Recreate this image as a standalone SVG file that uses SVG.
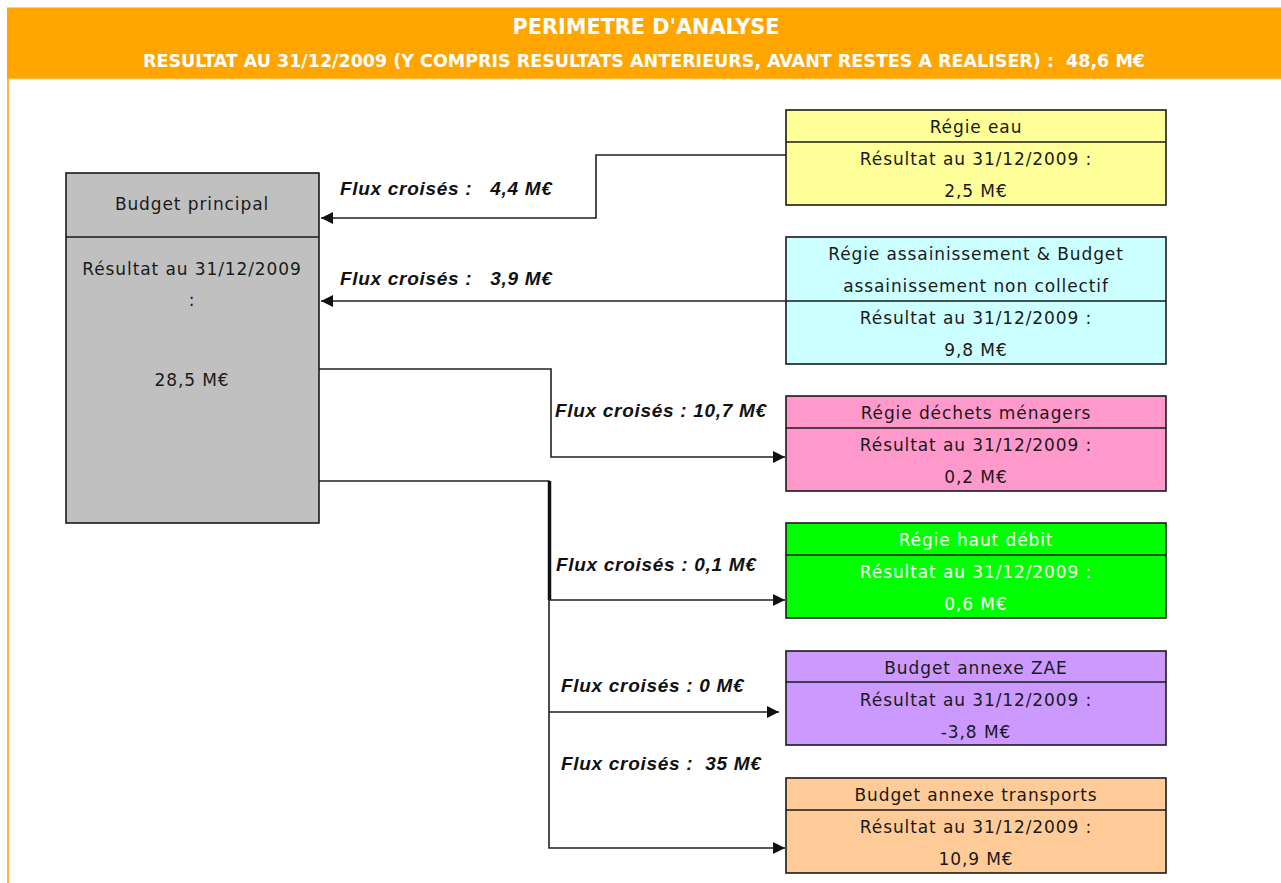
<svg xmlns="http://www.w3.org/2000/svg" width="1281" height="883" viewBox="0 0 1281 883">
<style>
.box{stroke:#1a1a1a;stroke-width:1.6}
.div{stroke:#1a1a1a;stroke-width:1.4}
.t{font-family:"DejaVu Sans",Verdana,sans-serif;font-size:17px;letter-spacing:0.9px;fill:#1a1a1a;text-anchor:middle}
.w{fill:#ffffff}
.lbl{font-family:"Liberation Sans",Arial,sans-serif;font-size:19px;letter-spacing:0.7px;font-style:italic;font-weight:bold;fill:#111;white-space:pre}
.hd{font-family:"DejaVu Sans Condensed","DejaVu Sans",sans-serif;font-weight:bold;fill:#ffffff;text-anchor:middle;white-space:pre}
.c{fill:none;stroke:#222;stroke-width:1.6}
</style>
<defs>
<marker id="ah" viewBox="0 0 10 10" refX="10" refY="5" markerWidth="12" markerHeight="12" markerUnits="userSpaceOnUse" orient="auto">
<path d="M0,0 L10,5 L0,10 z" fill="#111"/>
</marker>
</defs>
<rect width="1281" height="883" fill="#ffffff"/>
<g id="header">
<rect x="7" y="7" width="1274" height="72" fill="#FFA500"/>
<line x1="7" y1="7.5" x2="1281" y2="7.5" stroke="#FFD480" stroke-width="1"/>
<line x1="7" y1="79" x2="1281" y2="79" stroke="#FFD480" stroke-width="1"/>
<line x1="8" y1="79" x2="8" y2="883" stroke="#FFB83A" stroke-width="2"/>
<text class="hd" x="646" y="34" font-size="21" textLength="267" lengthAdjust="spacingAndGlyphs">PERIMETRE D'ANALYSE</text>
<text class="hd" x="644" y="67" font-size="17" textLength="1002" lengthAdjust="spacingAndGlyphs">RESULTAT AU 31/12/2009 (Y COMPRIS RESULTATS ANTERIEURS, AVANT RESTES A REALISER) :  48,6 M€</text>
</g>
<g id="connectors">
<polyline class="c" points="786,155 596,155 596,218 321,218" marker-end="url(#ah)"/>
<polyline class="c" points="786,301 321,301" marker-end="url(#ah)"/>
<polyline class="c" points="319,369 551,369 551,457 785,457" marker-end="url(#ah)"/>
<polyline class="c" points="317,481 549,481 549,848 785,848" marker-end="url(#ah)"/>
<line x1="549.5" y1="481" x2="549.5" y2="600" stroke="#111" stroke-width="3.5"/>
<polyline class="c" points="549,600 785,600" marker-end="url(#ah)"/>
<polyline class="c" points="549,712 779,712" marker-end="url(#ah)"/>
<text class="lbl" x="340" y="195">Flux croisés :   4,4 M€</text>
<text class="lbl" x="340" y="285">Flux croisés :   3,9 M€</text>
<text class="lbl" x="555" y="417">Flux croisés : 10,7 M€</text>
<text class="lbl" x="556" y="571">Flux croisés : 0,1 M€</text>
<text class="lbl" x="561" y="692">Flux croisés : 0 M€</text>
<text class="lbl" x="561" y="770">Flux croisés :  35 M€</text>
</g>
<g id="budget-principal">
<rect class="box" x="66" y="173" width="253" height="350" fill="#C0C0C0"/>
<line class="div" x1="66" y1="237" x2="319" y2="237"/>
<text class="t" x="192" y="210">Budget principal</text>
<text class="t" x="192" y="275">Résultat au 31/12/2009</text>
<text class="t" x="192" y="306">:</text>
<text class="t" x="192" y="386">28,5 M€</text>
</g>
<g id="regie-eau">
<rect class="box" x="786" y="110" width="380" height="95" fill="#FFFF99"/>
<line class="div" x1="786" y1="142" x2="1166" y2="142"/>
<text class="t" x="976" y="133">Régie eau</text>
<text class="t" x="976" y="165">Résultat au 31/12/2009 :</text>
<text class="t" x="976" y="197">2,5 M€</text>
</g>
<g id="regie-assainissement">
<rect class="box" x="786" y="237" width="380" height="127" fill="#CCFFFF"/>
<line class="div" x1="786" y1="301" x2="1166" y2="301"/>
<text class="t" x="976" y="260">Régie assainissement &amp; Budget</text>
<text class="t" x="976" y="292">assainissement non collectif</text>
<text class="t" x="976" y="324">Résultat au 31/12/2009 :</text>
<text class="t" x="976" y="356">9,8 M€</text>
</g>
<g id="regie-dechets">
<rect class="box" x="786" y="396" width="380" height="95" fill="#FF99CC"/>
<line class="div" x1="786" y1="428" x2="1166" y2="428"/>
<text class="t" x="976" y="419">Régie déchets ménagers</text>
<text class="t" x="976" y="451">Résultat au 31/12/2009 :</text>
<text class="t" x="976" y="483">0,2 M€</text>
</g>
<g id="regie-haut-debit">
<rect class="box" x="786" y="523" width="380" height="95" fill="#00FF00"/>
<line class="div" x1="786" y1="555" x2="1166" y2="555"/>
<text class="t w" x="976" y="546">Régie haut débit</text>
<text class="t w" x="976" y="578">Résultat au 31/12/2009 :</text>
<text class="t w" x="976" y="610">0,6 M€</text>
</g>
<g id="budget-zae">
<rect class="box" x="786" y="651" width="380" height="94" fill="#CC99FF"/>
<line class="div" x1="786" y1="682" x2="1166" y2="682"/>
<text class="t" x="976" y="674">Budget annexe ZAE</text>
<text class="t" x="976" y="706">Résultat au 31/12/2009 :</text>
<text class="t" x="976" y="738">-3,8 M€</text>
</g>
<g id="budget-transports">
<rect class="box" x="786" y="778" width="380" height="95" fill="#FFCC99"/>
<line class="div" x1="786" y1="810" x2="1166" y2="810"/>
<text class="t" x="976" y="801">Budget annexe transports</text>
<text class="t" x="976" y="833">Résultat au 31/12/2009 :</text>
<text class="t" x="976" y="865">10,9 M€</text>
</g>
</svg>
